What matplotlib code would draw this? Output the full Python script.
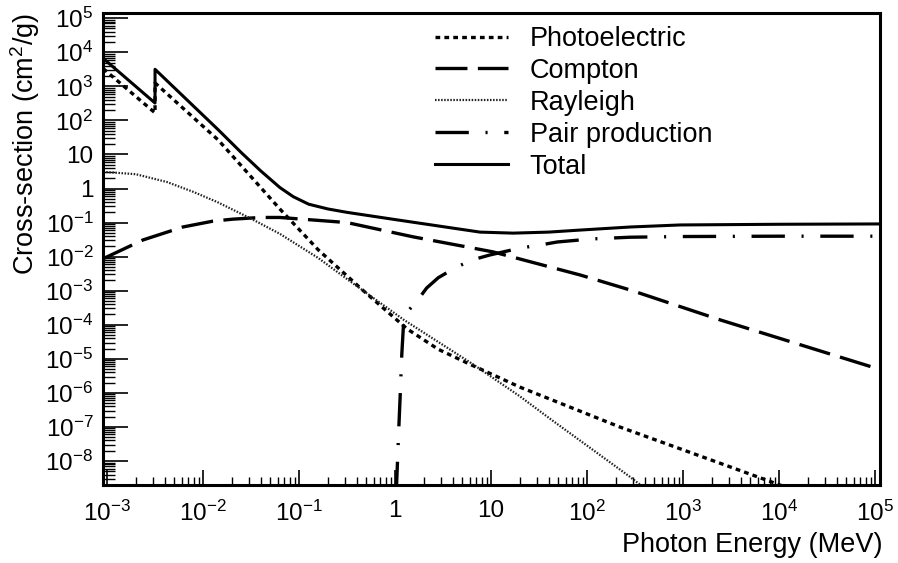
import numpy as np
import matplotlib
matplotlib.use('Agg')
import matplotlib.pyplot as plt
from matplotlib.ticker import LogLocator, FixedLocator, FixedFormatter, NullFormatter

plt.rcParams['font.family'] = ['Liberation Sans', 'DejaVu Sans']
plt.rcParams['mathtext.fontset'] = 'custom'
plt.rcParams['mathtext.rm'] = 'Liberation Sans'
plt.rcParams['mathtext.it'] = 'Liberation Sans:italic'
plt.rcParams['lines.scale_dashes'] = False

# values, as log10(E / MeV) and log10(sigma / cm2 g-1)
pe_logE = [-3.04, -2.5, -2.5, -1.84, -1.2, -0.8, -0.33, 0.125, 0.45, 0.75, 1.3, 2.34, 3.39, 4.2]
pe_logS = [3.52, 2.22, 3.10, 1.42, -0.60, -1.80, -3.0, -4.12, -4.72, -5.12, -5.83, -7.0, -8.07, -8.9]

co_logE = [-3.04, -2.625, -2.21, -1.9, -1.69, -1.4, -1.2, -0.5, 0.19, 1.02, 1.93, 2.45, 3.39, 5.06]
co_logS = [-2.06, -1.51, -1.13, -0.96, -0.90, -0.85, -0.85, -1.0, -1.42, -1.86, -2.54, -2.98, -3.86, -5.32]

ra_logE = [-3.04, -2.7, -2.375, -2.1, -1.85, -1.51, -1.2, -0.8, -0.47, 0.094, 0.79, 1.3, 1.61, 2.45, 2.6]
ra_logS = [0.49, 0.42, 0.19, -0.1, -0.40, -0.87, -1.33, -2.04, -2.72, -3.86, -5.12, -6.1, -6.75, -8.47, -8.8]

pp_logE = [0.012, 0.04, 0.052, 0.07, 0.09, 0.15, 0.23, 0.33, 0.45, 0.625, 0.8, 0.99, 1.3, 1.51, 1.69, 2.05, 2.45, 3.0, 4.0, 5.06]
pp_logS = [-9.0, -7.0, -6.2, -4.9, -3.9, -3.55, -3.3, -2.92, -2.62, -2.33, -2.1, -1.95, -1.75, -1.66, -1.57, -1.48, -1.43, -1.41, -1.40, -1.40]

tot_logE = [-3.04, -2.5, -2.5, -1.84, -1.6, -1.4, -1.2, -1.06, -0.9, -0.7, -0.5, 0.02, 0.5, 0.885, 1.23, 1.6, 1.93, 2.45, 2.97, 4.0, 5.06]
tot_logS = [3.82, 2.51, 3.50, 1.72, 1.05, 0.52, 0.03, -0.24, -0.46, -0.6, -0.7, -0.92, -1.12, -1.28, -1.31, -1.28, -1.22, -1.13, -1.07, -1.05, -1.04]

x_ticks = [1e-3, 1e-2, 1e-1, 1, 10, 1e2, 1e3, 1e4, 1e5]
x_labels = [r'$10^{-3}$', r'$10^{-2}$', r'$10^{-1}$', '1', '10',
            r'$10^{2}$', r'$10^{3}$', r'$10^{4}$', r'$10^{5}$']
y_ticks = [1e5, 1e4, 1e3, 1e2, 10, 1, 1e-1, 1e-2, 1e-3, 1e-4, 1e-5, 1e-6, 1e-7, 1e-8]
y_labels = [r'$10^{5}$', r'$10^{4}$', r'$10^{3}$', r'$10^{2}$', '10', '1',
            r'$10^{-1}$', r'$10^{-2}$', r'$10^{-3}$', r'$10^{-4}$', r'$10^{-5}$',
            r'$10^{-6}$', r'$10^{-7}$', r'$10^{-8}$']

def p(a):
    return 10 ** np.array(a)

fig = plt.figure(figsize=(8.98, 5.63), dpi=100)
ax = fig.add_axes([103/898, 1 - 485/563, 777/898, 472/563])

ax.plot(p(pe_logE), p(pe_logS), color='black', lw=2.4, dashes=(3.4, 3.0), label='Photoelectric')
ax.plot(p(co_logE), p(co_logS), color='black', lw=2.4, dashes=(23, 7.5), label='Compton')
ax.plot(p(ra_logE), p(ra_logS), color='#222222', lw=1.6, dashes=(1.1, 1.1), label='Rayleigh')
ax.plot(p(pp_logE), p(pp_logS), color='black', lw=2.4, dashes=(24, 12, 1.5, 12), label='Pair production')
ax.plot(p(tot_logE), p(tot_logS), color='black', lw=2.2, label='Total')

ax.set_xscale('log')
ax.set_yscale('log')
ax.set_xlim(10 ** -3.042, 10 ** 5.052)
ax.set_ylim(10 ** -8.705, 10 ** 5.153)

ax.xaxis.set_major_locator(FixedLocator(x_ticks))
ax.xaxis.set_major_formatter(FixedFormatter(x_labels))
ax.yaxis.set_major_locator(FixedLocator(y_ticks))
ax.yaxis.set_major_formatter(FixedFormatter(y_labels))
ax.xaxis.set_minor_locator(LogLocator(base=10, subs=np.arange(2, 10), numticks=30))
ax.yaxis.set_minor_locator(LogLocator(base=10, subs=np.arange(2, 10), numticks=30))
ax.xaxis.set_minor_formatter(NullFormatter())
ax.yaxis.set_minor_formatter(NullFormatter())

ax.tick_params(axis='x', which='major', direction='in', length=10.8, width=1.2, pad=11, labelsize=17.5)
ax.tick_params(axis='x', which='minor', direction='in', length=5.8, width=1.0)
ax.tick_params(axis='y', which='major', direction='in', length=18, width=1.2, pad=7, labelsize=17.5)
ax.tick_params(axis='y', which='minor', direction='in', length=8.6, width=1.0)
ax.tick_params(top=False, right=False, which='both')
for s in ax.spines.values():
    s.set_linewidth(2.2)

fig.text(25/898, 1 - 13/563, r'Cross-section (cm$^{2}$/g)', rotation=90,
         ha='center', va='top', fontsize=19.5)
fig.text(882/898, 1 - 552/563, 'Photon Energy (MeV)', ha='right', va='baseline', fontsize=19.5)

ax.legend(loc='upper left', bbox_to_anchor=(435/898, 1 - 26/563), bbox_transform=fig.transFigure,
          frameon=False, fontsize=19.5, borderpad=0, borderaxespad=0, handlelength=2.7,
          handletextpad=0.8, labelspacing=0.22)

fig.savefig('out.png', dpi=100)
